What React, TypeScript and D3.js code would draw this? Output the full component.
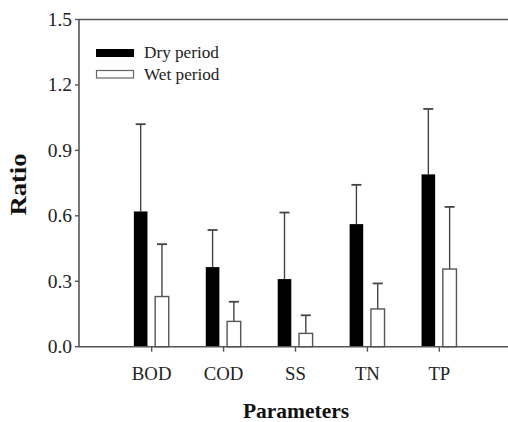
import React from "react";
import * as d3 from "d3";

const categories = ["BOD", "COD", "SS", "TN", "TP"];
const dryValues = [0.62, 0.365, 0.31, 0.562, 0.79];
const dryErrors = [0.40, 0.17, 0.305, 0.18, 0.30];
const wetValues = [0.23, 0.116, 0.061, 0.173, 0.356];
const wetErrors = [0.24, 0.09, 0.083, 0.117, 0.285];
const yTicks = [0, 0.3, 0.6, 0.9, 1.2, 1.5];
const seriesNames = ["Dry period", "Wet period"];

const W = 508;
const H = 422;
const FONT = "'Liberation Serif', 'Times New Roman', serif";
const AX = "#555";

export default function App() {
  const x = d3.scaleBand<string>().domain(categories).range([115.7, 475.3]).padding(0);
  const y = d3.scaleLinear().domain([0, 1.5]).range([346.7, 19.5]);
  const left = 79;
  const right = 508;
  const bw = 13.6;
  const cx = (c: string) => (x(c) as number) + x.bandwidth() / 2;

  const errBar = (xc: number, v: number, e: number, key: string) => (
    <g key={key} stroke="#444" strokeWidth={1.4}>
      <line x1={xc} x2={xc} y1={y(v)} y2={y(v + e)} />
      <line x1={xc - 5} x2={xc + 5} y1={y(v + e)} y2={y(v + e)} strokeWidth={1.8} />
    </g>
  );

  return (
    <svg width={W} height={H} style={{ position: "absolute", left: 0, top: 0, background: "#fff" }}>
      {/* error bars behind bars */}
      {categories.map((c, i) => errBar(cx(c) - 11, dryValues[i], dryErrors[i], "de" + i))}
      {categories.map((c, i) => errBar(cx(c) + 10.3, wetValues[i], wetErrors[i], "we" + i))}
      {categories.map((c, i) => (
        <rect key={"d" + i} x={cx(c) - 17.8} width={bw} y={y(dryValues[i])} height={y(0) - y(dryValues[i])} fill="#000" />
      ))}
      {categories.map((c, i) => (
        <rect key={"w" + i} x={cx(c) + 3.5} width={bw} y={y(wetValues[i])} height={y(0) - y(wetValues[i])} fill="#fff" stroke="#555" strokeWidth={1.4} />
      ))}
      {/* frame */}
      <line x1={left} x2={right} y1={y(1.5)} y2={y(1.5)} stroke={AX} strokeWidth={1.6} />
      <line x1={left} x2={right} y1={y(0)} y2={y(0)} stroke={AX} strokeWidth={1.6} />
      <line x1={left} x2={left} y1={y(1.5)} y2={y(0)} stroke={AX} strokeWidth={1.6} />
      {yTicks.map((t) => (
        <g key={"yt" + t}>
          <line x1={left - 4} x2={left} y1={y(t)} y2={y(t)} stroke={AX} strokeWidth={1.4} />
          <text x={72} y={y(t) + 6.5} textAnchor="end" fontFamily={FONT} fontSize={19.5} fill="#222">
            {t.toFixed(1)}
          </text>
        </g>
      ))}
      {categories.map((c) => (
        <g key={"xt" + c}>
          <line x1={cx(c)} x2={cx(c)} y1={y(0)} y2={y(0) + 5} stroke={AX} strokeWidth={1.4} />
          <text x={cx(c)} y={379.5} textAnchor="middle" fontFamily={FONT} fontSize={18.8} fill="#222">
            {c}
          </text>
        </g>
      ))}
      <text x={296} y={417.5} textAnchor="middle" fontFamily={FONT} fontSize={21.5} fontWeight="bold" fill="#111">
        Parameters
      </text>
      <text
        transform="translate(26,184.5) rotate(-90)"
        textAnchor="middle"
        fontFamily={FONT}
        fontSize={22.5}
        fontWeight="bold"
        fill="#111"
        textLength={62}
        lengthAdjust="spacingAndGlyphs"
      >
        Ratio
      </text>
      {/* legend */}
      <rect x={96} y={49} width={38} height={8} fill="#000" />
      <rect x={96.5} y={70.5} width={37} height={7.5} fill="#fff" stroke="#666" strokeWidth={1.2} />
      <text x={144} y={58.3} fontFamily={FONT} fontSize={17.2} fill="#222">{seriesNames[0]}</text>
      <text x={144} y={80.3} fontFamily={FONT} fontSize={17.2} fill="#222">{seriesNames[1]}</text>
    </svg>
  );
}
